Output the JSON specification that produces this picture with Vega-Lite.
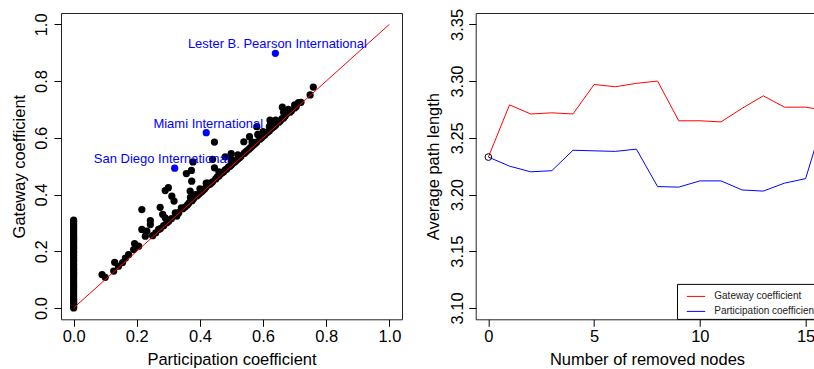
{
  "$schema": "https://vega.github.io/schema/vega-lite/v6.json",
  "background": "white",
  "padding": {"left": 10, "top": 7, "right": 0, "bottom": 2},
  "config": {
    "font": "Liberation Sans",
    "view": {"stroke": "#222", "strokeWidth": 1},
    "axis": {
      "domain": false,
      "grid": false,
      "tickColor": "black",
      "tickSize": 7,
      "tickWidth": 1,
      "labelFont": "Liberation Sans",
      "labelFontSize": 16.5,
      "labelColor": "black",
      "labelBaseline": "alphabetic",
      "labelFlush": false,
      "labelOverlap": false,
      "titleFont": "Liberation Sans",
      "titleFontSize": 16.5,
      "titleFontWeight": "normal",
      "titleColor": "black",
      "titleBaseline": "alphabetic"
    },
    "axisX": {"labelPadding": 15, "titleY": 45.5},
    "axisY": {"labelAngle": -90, "labelAlign": "center", "labelPadding": 7.5, "titleX": -37}
  },
  "datasets": {
    "nodes": [
      {"p": 0, "g": 0}, {"p": 0, "g": 0.004}, {"p": 0, "g": 0.008}, {"p": 0, "g": 0.012}, {"p": 0, "g": 0.016},
      {"p": 0, "g": 0.02}, {"p": 0, "g": 0.025}, {"p": 0, "g": 0.03}, {"p": 0, "g": 0.036}, {"p": 0, "g": 0.042},
      {"p": 0, "g": 0.05}, {"p": 0, "g": 0.057}, {"p": 0, "g": 0.064}, {"p": 0, "g": 0.072}, {"p": 0, "g": 0.08},
      {"p": 0, "g": 0.088}, {"p": 0, "g": 0.095}, {"p": 0, "g": 0.103}, {"p": 0, "g": 0.11}, {"p": 0, "g": 0.118},
      {"p": 0, "g": 0.125}, {"p": 0, "g": 0.133}, {"p": 0, "g": 0.14}, {"p": 0, "g": 0.148}, {"p": 0, "g": 0.155},
      {"p": 0, "g": 0.163}, {"p": 0, "g": 0.17}, {"p": 0, "g": 0.178}, {"p": 0, "g": 0.186}, {"p": 0, "g": 0.194},
      {"p": 0, "g": 0.2}, {"p": 0, "g": 0.208}, {"p": 0, "g": 0.215}, {"p": 0, "g": 0.222}, {"p": 0, "g": 0.23},
      {"p": 0, "g": 0.238}, {"p": 0, "g": 0.245}, {"p": 0, "g": 0.252}, {"p": 0, "g": 0.26}, {"p": 0, "g": 0.268},
      {"p": 0, "g": 0.275}, {"p": 0, "g": 0.283}, {"p": 0, "g": 0.29}, {"p": 0, "g": 0.297}, {"p": 0, "g": 0.305},
      {"p": 0, "g": 0.31},
      {"p": 0.09, "g": 0.118}, {"p": 0.1, "g": 0.108}, {"p": 0.127, "g": 0.13}, {"p": 0.13, "g": 0.161},
      {"p": 0.142, "g": 0.147}, {"p": 0.155, "g": 0.16}, {"p": 0.164, "g": 0.176}, {"p": 0.174, "g": 0.188},
      {"p": 0.19, "g": 0.206}, {"p": 0.193, "g": 0.227}, {"p": 0.206, "g": 0.218}, {"p": 0.216, "g": 0.347},
      {"p": 0.216, "g": 0.277}, {"p": 0.227, "g": 0.253}, {"p": 0.232, "g": 0.271}, {"p": 0.243, "g": 0.308},
      {"p": 0.243, "g": 0.294}, {"p": 0.25, "g": 0.255}, {"p": 0.26, "g": 0.265}, {"p": 0.269, "g": 0.277},
      {"p": 0.274, "g": 0.355}, {"p": 0.275, "g": 0.28}, {"p": 0.282, "g": 0.33}, {"p": 0.285, "g": 0.29},
      {"p": 0.29, "g": 0.318}, {"p": 0.295, "g": 0.3}, {"p": 0.301, "g": 0.306}, {"p": 0.29, "g": 0.414},
      {"p": 0.3, "g": 0.424}, {"p": 0.311, "g": 0.394}, {"p": 0.318, "g": 0.377}, {"p": 0.31, "g": 0.315},
      {"p": 0.322, "g": 0.335}, {"p": 0.327, "g": 0.324}, {"p": 0.333, "g": 0.336}, {"p": 0.341, "g": 0.353},
      {"p": 0.346, "g": 0.35}, {"p": 0.353, "g": 0.356}, {"p": 0.357, "g": 0.474}, {"p": 0.373, "g": 0.485},
      {"p": 0.374, "g": 0.447}, {"p": 0.378, "g": 0.515}, {"p": 0.369, "g": 0.412}, {"p": 0.372, "g": 0.383},
      {"p": 0.36, "g": 0.363}, {"p": 0.365, "g": 0.37}, {"p": 0.375, "g": 0.378}, {"p": 0.38, "g": 0.386},
      {"p": 0.385, "g": 0.4}, {"p": 0.39, "g": 0.395}, {"p": 0.395, "g": 0.4}, {"p": 0.4, "g": 0.405},
      {"p": 0.405, "g": 0.41}, {"p": 0.41, "g": 0.415}, {"p": 0.415, "g": 0.42}, {"p": 0.42, "g": 0.427},
      {"p": 0.425, "g": 0.44}, {"p": 0.43, "g": 0.435}, {"p": 0.435, "g": 0.44}, {"p": 0.44, "g": 0.445},
      {"p": 0.446, "g": 0.585}, {"p": 0.44, "g": 0.524}, {"p": 0.446, "g": 0.494}, {"p": 0.45, "g": 0.455},
      {"p": 0.455, "g": 0.462}, {"p": 0.46, "g": 0.465}, {"p": 0.465, "g": 0.472}, {"p": 0.47, "g": 0.477},
      {"p": 0.475, "g": 0.48}, {"p": 0.48, "g": 0.533}, {"p": 0.48, "g": 0.487}, {"p": 0.485, "g": 0.49},
      {"p": 0.49, "g": 0.497}, {"p": 0.495, "g": 0.5}, {"p": 0.499, "g": 0.544}, {"p": 0.5, "g": 0.505},
      {"p": 0.505, "g": 0.512}, {"p": 0.51, "g": 0.515}, {"p": 0.515, "g": 0.52}, {"p": 0.52, "g": 0.525},
      {"p": 0.525, "g": 0.53}, {"p": 0.53, "g": 0.535}, {"p": 0.539, "g": 0.586}, {"p": 0.54, "g": 0.545},
      {"p": 0.545, "g": 0.55}, {"p": 0.55, "g": 0.555}, {"p": 0.557, "g": 0.604}, {"p": 0.555, "g": 0.56},
      {"p": 0.56, "g": 0.565}, {"p": 0.565, "g": 0.57}, {"p": 0.57, "g": 0.575}, {"p": 0.575, "g": 0.58},
      {"p": 0.58, "g": 0.639}, {"p": 0.583, "g": 0.612}, {"p": 0.58, "g": 0.585}, {"p": 0.59, "g": 0.595},
      {"p": 0.595, "g": 0.6}, {"p": 0.6, "g": 0.605}, {"p": 0.605, "g": 0.61}, {"p": 0.61, "g": 0.617},
      {"p": 0.615, "g": 0.62}, {"p": 0.622, "g": 0.662}, {"p": 0.624, "g": 0.647}, {"p": 0.62, "g": 0.625},
      {"p": 0.625, "g": 0.632}, {"p": 0.63, "g": 0.636}, {"p": 0.635, "g": 0.64}, {"p": 0.64, "g": 0.645},
      {"p": 0.65, "g": 0.655}, {"p": 0.655, "g": 0.66}, {"p": 0.661, "g": 0.708}, {"p": 0.66, "g": 0.668},
      {"p": 0.665, "g": 0.67}, {"p": 0.67, "g": 0.677}, {"p": 0.675, "g": 0.685}, {"p": 0.68, "g": 0.7},
      {"p": 0.685, "g": 0.69}, {"p": 0.69, "g": 0.695}, {"p": 0.7, "g": 0.705}, {"p": 0.712, "g": 0.724},
      {"p": 0.705, "g": 0.71}, {"p": 0.72, "g": 0.725}, {"p": 0.749, "g": 0.751}, {"p": 0.759, "g": 0.779},
      {"p": 0.37, "g": 0.39}, {"p": 0.4, "g": 0.42}, {"p": 0.42, "g": 0.44}, {"p": 0.46, "g": 0.48},
      {"p": 0.5, "g": 0.522}, {"p": 0.52, "g": 0.54}, {"p": 0.565, "g": 0.585}, {"p": 0.6, "g": 0.622},
      {"p": 0.64, "g": 0.662}, {"p": 0.665, "g": 0.69}, {"p": 0.7, "g": 0.716}, {"p": 0.62, "g": 0.64}
    ],
    "hubs": [
      {"name": "Lester B. Pearson International", "p": 0.639, "g": 0.898},
      {"name": "Miami International", "p": 0.42, "g": 0.618},
      {"name": "San Diego International", "p": 0.32, "g": 0.493}
    ],
    "diagonal": [
      {"p": 0, "g": 0},
      {"p": 1, "g": 1}
    ],
    "paths": [
      {"n": 0, "series": "Gateway coefficient", "length": 3.233},
      {"n": 1, "series": "Gateway coefficient", "length": 3.279},
      {"n": 2, "series": "Gateway coefficient", "length": 3.271},
      {"n": 3, "series": "Gateway coefficient", "length": 3.272},
      {"n": 4, "series": "Gateway coefficient", "length": 3.271},
      {"n": 5, "series": "Gateway coefficient", "length": 3.297},
      {"n": 6, "series": "Gateway coefficient", "length": 3.295},
      {"n": 7, "series": "Gateway coefficient", "length": 3.298},
      {"n": 8, "series": "Gateway coefficient", "length": 3.3},
      {"n": 9, "series": "Gateway coefficient", "length": 3.265},
      {"n": 10, "series": "Gateway coefficient", "length": 3.265},
      {"n": 11, "series": "Gateway coefficient", "length": 3.264},
      {"n": 12, "series": "Gateway coefficient", "length": 3.276},
      {"n": 13, "series": "Gateway coefficient", "length": 3.287},
      {"n": 14, "series": "Gateway coefficient", "length": 3.277},
      {"n": 15, "series": "Gateway coefficient", "length": 3.277},
      {"n": 16, "series": "Gateway coefficient", "length": 3.274},
      {"n": 0, "series": "Participation coefficient", "length": 3.233},
      {"n": 1, "series": "Participation coefficient", "length": 3.225},
      {"n": 2, "series": "Participation coefficient", "length": 3.22},
      {"n": 3, "series": "Participation coefficient", "length": 3.221},
      {"n": 4, "series": "Participation coefficient", "length": 3.239},
      {"n": 5, "series": "Participation coefficient", "length": 3.2385},
      {"n": 6, "series": "Participation coefficient", "length": 3.238},
      {"n": 7, "series": "Participation coefficient", "length": 3.24},
      {"n": 8, "series": "Participation coefficient", "length": 3.207},
      {"n": 9, "series": "Participation coefficient", "length": 3.2065},
      {"n": 10, "series": "Participation coefficient", "length": 3.212},
      {"n": 11, "series": "Participation coefficient", "length": 3.212},
      {"n": 12, "series": "Participation coefficient", "length": 3.204},
      {"n": 13, "series": "Participation coefficient", "length": 3.203},
      {"n": 14, "series": "Participation coefficient", "length": 3.21},
      {"n": 15, "series": "Participation coefficient", "length": 3.214},
      {"n": 16, "series": "Participation coefficient", "length": 3.275}
    ]
  },
  "bounds": "flush",
  "spacing": 73.7,
  "hconcat": [
    {
      "width": 341,
      "height": 306.3,
      "encoding": {
        "x": {
          "field": "p",
          "type": "quantitative",
          "scale": {"domain": [-0.04, 1.04], "nice": false, "zero": false},
          "axis": {"values": [0, 0.2, 0.4, 0.6, 0.8, 1], "format": ".1f", "title": "Participation coefficient"}
        },
        "y": {
          "field": "g",
          "type": "quantitative",
          "scale": {"domain": [-0.04, 1.04], "nice": false, "zero": false},
          "axis": {"values": [0, 0.2, 0.4, 0.6, 0.8, 1], "format": ".1f", "title": "Gateway coefficient"}
        }
      },
      "layer": [
        {
          "data": {"name": "nodes"},
          "mark": {"type": "circle", "size": 52, "color": "black", "opacity": 1}
        },
        {
          "data": {"name": "diagonal"},
          "mark": {"type": "line", "color": "#FF0000", "strokeWidth": 1}
        },
        {
          "data": {"name": "hubs"},
          "mark": {"type": "circle", "size": 52, "color": "#0000FF", "opacity": 1}
        },
        {
          "data": {"name": "hubs"},
          "transform": [{"filter": "datum.name != 'San Diego International'"}],
          "mark": {"type": "text", "color": "#0000FF", "fontSize": 13, "font": "Liberation Sans", "baseline": "middle", "align": "center", "dy": -9, "dx": 2},
          "encoding": {"text": {"field": "name"}}
        },
        {
          "data": {"name": "hubs"},
          "transform": [{"filter": "datum.name == 'San Diego International'"}],
          "mark": {"type": "text", "color": "#0000FF", "fontSize": 13, "font": "Liberation Sans", "baseline": "middle", "align": "center", "dy": -9.5, "dx": -13},
          "encoding": {"text": {"field": "name"}}
        }
      ]
    },
    {
      "width": 342.6,
      "height": 306.3,
      "data": {"name": "paths"},
      "encoding": {
        "x": {
          "field": "n",
          "type": "quantitative",
          "scale": {"domain": [-0.6, 15.6], "nice": false, "zero": false},
          "axis": {"values": [0, 5, 10, 15], "format": "d", "title": "Number of removed nodes"}
        },
        "y": {
          "field": "length",
          "type": "quantitative",
          "scale": {"domain": [3.09, 3.36], "nice": false, "zero": false},
          "axis": {"values": [3.1, 3.15, 3.2, 3.25, 3.3, 3.35], "format": ".2f", "title": "Average path length", "labelPadding": 6.5}
        }
      },
      "layer": [
        {
          "mark": {"type": "line", "strokeWidth": 1, "clip": true},
          "encoding": {
            "color": {
              "field": "series",
              "type": "nominal",
              "scale": {"domain": ["Gateway coefficient", "Participation coefficient"], "range": ["#FF0000", "#0000FF"]},
              "legend": {
                "title": null,
                "orient": "none",
                "legendX": 616,
                "legendY": 270.9,
                "padding": 2.5,
                "strokeColor": "black",
                "fillColor": "white",
                "symbolType": "stroke",
                "symbolSize": 335,
                "symbolStrokeWidth": 1,
                "symbolOffset": 6.5,
                "labelOffset": 8.3,
                "labelFont": "Liberation Sans",
                "labelFontSize": 10,
                "labelColor": "#222",
                "labelLimit": 300,
                "rowPadding": -6.3
              }
            }
          }
        },
        {
          "transform": [{"filter": "datum.n == 0 && datum.series == 'Gateway coefficient'"}],
          "mark": {"type": "point", "filled": false, "stroke": "black", "strokeWidth": 1, "size": 45, "opacity": 1}
        }
      ]
    }
  ]
}
